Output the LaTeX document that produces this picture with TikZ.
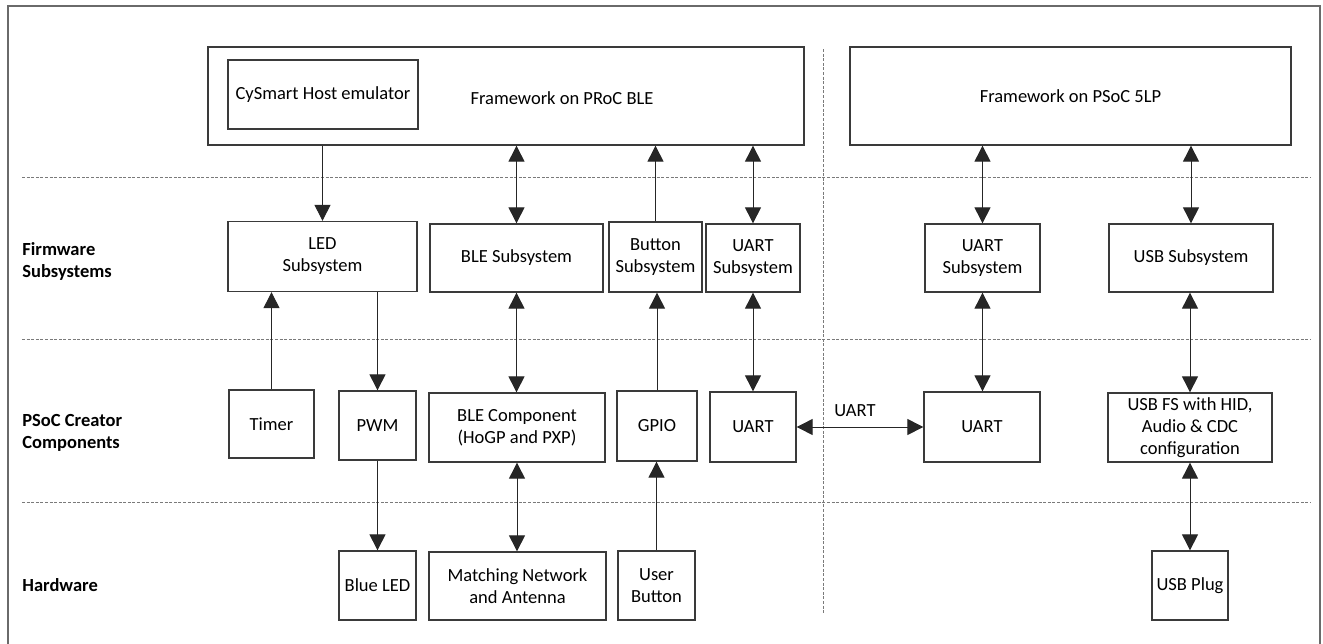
\documentclass[tikz,border=0pt]{standalone}
\usepackage{fontspec}
\setmainfont{Carlito}
\usetikzlibrary{positioning,arrows.meta,calc}
\definecolor{cline}{HTML}{3A3A3A}
\definecolor{cdash}{HTML}{7A7A7A}
\definecolor{cframe}{HTML}{6A6A6A}

\begin{document}
\begin{tikzpicture}[x=0.5pt, y=-0.5pt,
  blk/.style={draw=cline, line width=0.65pt, rectangle, inner sep=0pt, align=center,
              font=\fontsize{9.25}{11}\selectfont},
  txt/.style={inner sep=0pt, align=center, font=\fontsize{9.25}{11}\selectfont},
  layer/.style={inner sep=0pt, align=left, anchor=west,
                font=\bfseries\fontsize{9.25}{11}\selectfont},
  sep/.style={draw=cdash, line width=0.5pt, dash pattern=on 1.5pt off 0.8pt},
  arr/.style={-{Triangle[length=8pt,width=8pt]}, line width=0.5pt, draw=black!85},
  darr/.style={{Triangle[length=8pt,width=8pt]}-{Triangle[length=8pt,width=8pt]},
               line width=0.5pt, draw=black!85}
]
\useasboundingbox (0,0) rectangle (1323,643);

% --- outer frame and layer separators ---
\draw[draw=cframe, line width=0.75pt] (8,660) -- (8,6) -- (1320,6) -- (1320,660);
\draw[sep] (22,177) -- (1311,177);
\draw[sep] (22,339) -- (1311,339);
\draw[sep] (22,502) -- (1311,502);
\draw[sep] (823,49) -- (823,613);

% --- layer names ---
\node[layer] (lfirm) at (22,261) {Firmware\\Subsystems};
\node[layer] (lcomp) at (22,433) {PSoC Creator\\Components};
\node[layer] (lhard) at (22,585) {Hardware};

% --- frameworks ---
\node[blk, minimum width=298pt, minimum height=49pt] (fwproc) at (506,96) {};
\node[txt] (fwprocname) at (562,98) {Framework on PRoC BLE};
\node[blk, minimum width=95pt, minimum height=34.5pt] (cysmart) at (323,94.5)
  {CySmart Host emulator};
\node[blk, minimum width=220.5pt, minimum height=49pt] (fwpsoc) at (1070.5,96)
  {Framework on PSoC 5LP};

% --- firmware subsystems ---
\node[blk, minimum width=94.5pt, minimum height=35pt] (ledsub) at (322.5,256.5)
  {LED\\Subsystem};
\node[blk, minimum width=86.5pt, minimum height=34pt] (blesub) at (516.5,258)
  {BLE Subsystem};
\node[blk, minimum width=46.5pt, minimum height=35pt] (btnsub) at (655.5,257)
  {Button\\Subsystem};
\node[blk, minimum width=47pt, minimum height=34pt] (uartsubA) at (753,258)
  {UART\\Subsystem};
\node[blk, minimum width=57.5pt, minimum height=34pt] (uartsubB) at (982.5,258)
  {UART\\Subsystem};
\node[blk, minimum width=82pt, minimum height=34pt] (usbsub) at (1191,258)
  {USB Subsystem};

% --- PSoC Creator components ---
\node[blk, minimum width=42.5pt, minimum height=34pt] (timer) at (271.5,424) {Timer};
\node[blk, minimum width=38.5pt, minimum height=34.5pt] (pwm) at (377.5,425.5) {PWM};
\node[blk, minimum width=88pt, minimum height=34.5pt] (blecomp) at (517,427.5)
  {BLE Component\\(HoGP and PXP)};
\node[blk, minimum width=40pt, minimum height=35pt] (gpio) at (657,426) {GPIO};
\node[blk, minimum width=43pt, minimum height=35pt] (uartA) at (753,427) {UART};
\node[blk, minimum width=58pt, minimum height=35pt] (uartB) at (982,427) {UART};
\node[blk, minimum width=82pt, minimum height=34.5pt] (usbfs) at (1190,427.5)
  {USB FS with HID,\\Audio \& CDC\\configuration};

% --- hardware ---
\node[blk, minimum width=38.5pt, minimum height=34.5pt] (blueled) at (377.5,585.5)
  {Blue LED};
\node[blk, minimum width=88.5pt, minimum height=34pt] (matchnet) at (517.5,586)
  {Matching Network\\and Antenna};
\node[blk, minimum width=38.5pt, minimum height=34.5pt] (userbtn) at (656.5,585.5)
  {User\\Button};
\node[blk, minimum width=38pt, minimum height=34.5pt] (usbplug) at (1190,585.5)
  {USB Plug};

% --- framework <-> subsystems ---
\draw[arr] (fwproc.south -| ledsub.north) -- (ledsub.north);
\draw[darr] (fwproc.south -| blesub.north) -- (blesub.north);
\draw[arr] (btnsub.north) -- (btnsub.north |- fwproc.south);
\draw[darr] (fwproc.south -| uartsubA.north) -- (uartsubA.north);
\draw[darr] (fwpsoc.south -| uartsubB.north) -- (uartsubB.north);
\draw[darr] (fwpsoc.south -| usbsub.north) -- (usbsub.north);

% --- subsystems <-> components ---
\draw[arr] (timer.north) -- (timer.north |- ledsub.south);
\draw[arr] (ledsub.south -| pwm.north) -- (pwm.north);
\draw[darr] (blesub.south) -- (blesub.south |- blecomp.north);
\draw[arr] (gpio.north) -- (gpio.north |- btnsub.south);
\draw[darr] (uartsubA.south) -- (uartsubA.south |- uartA.north);
\draw[darr] (uartsubB.south) -- (uartsubB.south |- uartB.north);
\draw[darr] (usbsub.south -| usbfs.north) -- (usbfs.north);

% --- UART link ---
\draw[darr] (uartA.east) -- (uartB.west);
\node[txt] (uartlink) at (855,411) {UART};

% --- components <-> hardware ---
\draw[arr] (pwm.south) -- (pwm.south |- blueled.north);
\draw[darr] (blecomp.south) -- (blecomp.south |- matchnet.north);
\draw[arr] (userbtn.north) -- (userbtn.north |- gpio.south);
\draw[darr] (usbfs.south) -- (usbfs.south |- usbplug.north);

\end{tikzpicture}
\end{document}
